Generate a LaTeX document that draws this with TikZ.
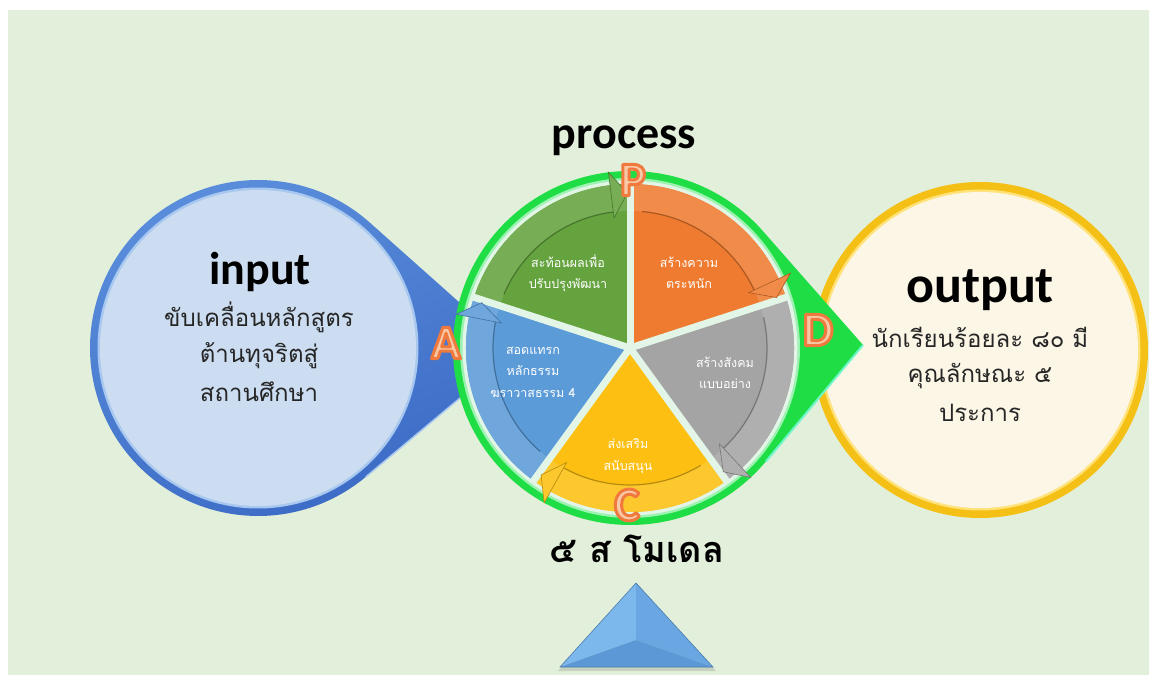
\documentclass[tikz,border=0pt]{standalone}
\usepackage{fontspec}
\setmainfont{Carlito}
\newfontfamily\thai[Script=Thai]{Loma}
\usetikzlibrary{calc}
\definecolor{bgg}{HTML}{E2EFDA}
\definecolor{inblue}{HTML}{3A69C4}
\definecolor{inblue2}{HTML}{5B8FDC}
\definecolor{inface}{HTML}{CCDDF1}
\definecolor{inhi}{HTML}{A8C8F0}
\definecolor{gold}{HTML}{F5C016}
\definecolor{goldhi}{HTML}{FFE27A}
\definecolor{cream}{HTML}{FCF6E6}
\definecolor{gring}{HTML}{1FDD45}
\definecolor{gringhi}{HTML}{9CF2B0}
\definecolor{pale}{HTML}{E2F5E6}
\definecolor{sgreen}{HTML}{64A33E}
\definecolor{sorange}{HTML}{EE7B30}
\definecolor{sgray}{HTML}{A4A4A4}
\definecolor{syellow}{HTML}{FDC012}
\definecolor{sblue}{HTML}{5B9BD8}
\definecolor{lpeach}{HTML}{F9C8A6}
\definecolor{triA}{HTML}{7DB8EC}
\definecolor{triB}{HTML}{6AA7E2}
\definecolor{triC}{HTML}{5C98D6}
\tikzset{
  bigword/.style={font=\bfseries\fontsize{46}{46}\selectfont, anchor=base, text=black},
  thaibig/.style={font=\thai\fontsize{24}{24}\selectfont, anchor=base, text=black!85},
  slicetext/.style={font=\thai\fontsize{12.5}{21.5}\selectfont, text=white, align=center},
  lettertxt/.style={font=\bfseries\fontsize{48}{48}\selectfont, inner sep=0pt, text=lpeach},
}
% outlined letter: fill peach, stroke orange (PDF text render mode 2)
\newcommand\outlined[1]{\special{pdf:code q 2 Tr 3 w 1 j 0.94 0.48 0.24 RG}#1\special{pdf:code Q}}
\begin{document}
\begin{tikzpicture}[x=1pt,y=1pt]
\useasboundingbox (0,0) rectangle (1149,675);
\fill[white] (0,0) rectangle (1149,675);
\fill[bgg] (8,0) rectangle (1149,665);

% ---------- input teardrop ----------
\coordinate (inc) at (258,327);
\coordinate (intip) at (515,323);
\shade[top color=inblue2, bottom color=inblue, shading angle=20]
  (intip) -- ($(inc)+(48.3:168)$) arc[start angle=48.3,end angle=309.9,radius=168] -- cycle;
\draw[inhi, line width=1.5] ($(inc)+(-50.1:168)$) -- (intip);
\fill[inhi] (inc) circle[radius=160.5];
\fill[inface] (inc) circle[radius=158];

% ---------- output circle ----------
\coordinate (outc) at (980,325);
\fill[gold] (outc) circle[radius=168];
\fill[goldhi] (outc) circle[radius=160.5];
\fill[cream] (outc) circle[radius=158];

% ---------- green teardrop ----------
\coordinate (pc) at (630,327);
\coordinate (gtip) at (863,330);
\fill[gring] (gtip) -- ($(pc)+(41.3:177)$) arc[start angle=41.3,end angle=320.1,radius=177] -- cycle;
\draw[gringhi!70!cyan, line width=2] ($(pc)+(-39.9:177)$) -- (gtip);
\fill[gringhi] (pc) circle[radius=170];
\fill[pale] (pc) circle[radius=167.5];

% ---------- pie ----------
\begin{scope}[shift={(pc)}]
  \foreach \a/\c in {90/sgreen,18/sorange,-54/sgray,-126/syellow,162/sblue}{
    \pgfmathsetmacro\b{\a+72}
    \fill[\c] (0,0) -- (\a:164) arc[start angle=\a,end angle=\b,radius=164] -- cycle;
    \fill[\c!88!white] (\a:137) -- (\a:164) arc[start angle=\a,end angle=\b,radius=164]
      -- (\b:137) arc[start angle=\b,end angle=\a,radius=137] -- cycle;
    \draw[\c!72!black, line width=1.2] (\b-5:137) arc[start angle=\b-5,end angle=\a+6,radius=137];
  }
  \foreach \a in {90,18,-54,-126,162}
    \draw[pale, line width=7] (0,0) -- (\a:166);
  \fill[pale] (0,0) circle[radius=5];
  \foreach \a/\c in {90/sgreen,18/sorange,-54/sgray,-126/syellow,162/sblue}{
    \fill[\c!88!white, draw=\c!72!black, line width=0.6]
      (\a+7:131) -- (\a+7:177) -- (\a+1:155) -- cycle;
  }
\end{scope}

% slice texts
\node[slicetext] (tg) at (568,402) {สะท้อนผลเพื่อ\\ปรับปรุงพัฒนา};
\node[slicetext] (to) at (689,402) {สร้างความ\\ตระหนัก};
\node[slicetext] (tb) at (533,303) {สอดแทรก\\หลักธรรม\\ฆราวาสธรรม 4};
\node[slicetext] (tgr) at (725,302) {สร้างสังคม\\แบบอย่าง};
\node[slicetext] (ty) at (628,219) {ส่งเสริม\\สนับสนุน};

% ---------- titles and texts ----------
\node[bigword] (proc) at (624,526) {process};
\node[bigword] (inp) at (260,390) {input};
\node[thaibig] (in1) at (259,348) {ขับเคลื่อนหลักสูตร};
\node[thaibig] (in2) at (259,312) {ต้านทุจริตสู่};
\node[thaibig] (in3) at (259,273) {สถานศึกษา};

\node[bigword, font=\bfseries\fontsize{52}{52}\selectfont] (outp) at (980,372) {output};
\node[thaibig] (o1) at (980,327) {นักเรียนร้อยละ ๘๐ มี};
\node[thaibig] (o2) at (980,292) {คุณลักษณะ ๕};
\node[thaibig] (o3) at (980,253) {ประการ};

\node[font=\thai\bfseries\fontsize{36}{36}\selectfont, anchor=base] (model) at (637,112) {๕ ส โมเดล};

% ---------- letters ----------
\node[lettertxt] (lP) at (633,495) {\outlined{P}};
\node[lettertxt] (lA) at (446,332) {\outlined{A}};
\node[lettertxt] (lC) at (627,170) {\outlined{C}};
\node[lettertxt] (lD) at (818,345) {\outlined{D}};

% ---------- triangle ----------
\coordinate (ta) at (636,92);
\coordinate (tl) at (560,8);
\coordinate (tr) at (713,8);
\coordinate (tm) at (636,35);
\fill[black, opacity=0.12] ($(ta)+(2,-3)$) -- ($(tl)+(-2,-4)$) -- ($(tr)+(3,-4)$) -- cycle;
\fill[triA] (ta) -- (tl) -- (tm) -- cycle;
\fill[triB] (ta) -- (tm) -- (tr) -- cycle;
\fill[triC] (tl) -- (tr) -- (tm) -- cycle;
\draw[triC!80!black, line width=0.6] (ta) -- (tl) -- (tr) -- cycle;
\end{tikzpicture}
\end{document}
